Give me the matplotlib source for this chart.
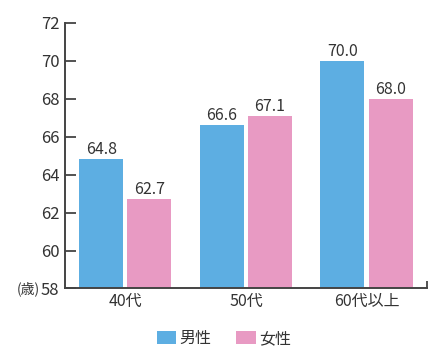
import matplotlib
matplotlib.use("Agg")
import matplotlib.pyplot as plt
import numpy as np
from matplotlib.patches import Patch

plt.rcParams['font.family'] = ['Noto Sans CJK JP', 'DejaVu Sans']

categories = ['40代', '50代', '60代以上']
series_names = ['男性', '女性']
male = [64.8, 66.6, 70.0]
female = [62.7, 67.1, 68.0]
yticks = [58, 60, 62, 64, 66, 68, 70, 72]
colors = ['#5DAEE2', '#E89AC3']
text_color = '#333333'

fig = plt.figure(figsize=(4.36, 3.47), dpi=100)
ax = fig.add_axes([0.149, 0.1686, 0.83, 0.7664])

x = np.arange(len(categories))
w = 0.365
off = 0.2
b1 = ax.bar(x - off, [v - 58 for v in male], w, bottom=58, color=colors[0])
b2 = ax.bar(x + off, [v - 58 for v in female], w, bottom=58, color=colors[1])
for bars, vals in ((b1, male), (b2, female)):
    for r, v in zip(bars, vals):
        ax.text(r.get_x() + r.get_width() / 2, v + 0.05, f'{v:.1f}',
                ha='center', va='bottom', fontsize=11.5, color=text_color)

ax.set_xlim(-0.5, 2.5)
ax.set_ylim(58, 72)
ax.set_yticks(yticks)
ax.set_yticklabels([str(t) for t in yticks], fontsize=12, color=text_color)
ax.set_xticks(x)
ax.set_xticklabels(categories, fontsize=11.5, color=text_color)
ax.tick_params(axis='x', length=0, pad=3)
ax.tick_params(axis='y', direction='in', length=8, width=1.3, color='#444444', pad=4)
ax.set_xticks([2.5], minor=True)
ax.tick_params(axis='x', which='minor', direction='in', length=5, width=1.3, color='#444444')

for s in ['top', 'right']:
    ax.spines[s].set_visible(False)
for s in ['left', 'bottom']:
    ax.spines[s].set_color('#444444')
    ax.spines[s].set_linewidth(1.4)

fig.text(0.038, 1 - 288.5 / 347, '(歳)', ha='left', va='center', fontsize=10, color=text_color)

handles = [Patch(facecolor=c, edgecolor='none') for c in colors]
fig.legend(handles, series_names, loc='center', bbox_to_anchor=(0.513, 1 - 338.5 / 347),
           ncol=2, frameon=False, fontsize=11.5, handlelength=1.2, handleheight=0.95,
           columnspacing=1.6, handletextpad=0.2, labelcolor=text_color,
           borderpad=0, borderaxespad=0)

fig.savefig('out.png', dpi=100)
